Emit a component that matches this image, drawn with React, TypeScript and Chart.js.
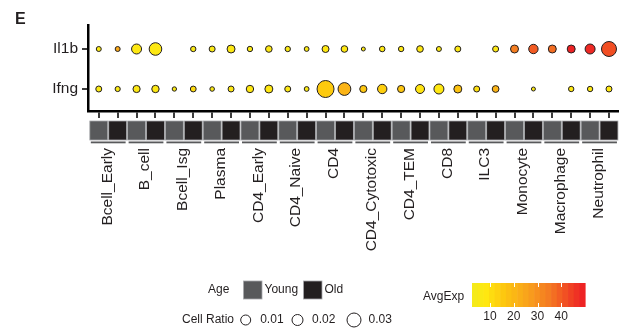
import React, { useEffect, useRef } from "react";
import { Chart, registerables } from "chart.js";

Chart.register(...registerables);

// Cell types, each split into a Young and an Old column
const cellTypes = [
  "Bcell_Early", "B_cell", "Bcell_Isg", "Plasma", "CD4_Early", "CD4_Naive", "CD4",
  "CD4_Cytotoxic", "CD4_TEM", "CD8", "ILC3", "Monocyte", "Macrophage", "Neutrophil",
];
const ageGroups = ["Young", "Old"];
const ageColors = ["#58595b", "#231f20"];
const genes = ["Il1b", "Ifng"];

// Fraction of cells expressing the gene, per column (Young, Old, Young, Old, ...); null = not detected
const il1bRatio = [
  0.0025, 0.0025, 0.0100, 0.0159, null, 0.0029, 0.0036, 0.0064, 0.0029, 0.0044,
  0.0029, 0.0023, 0.0049, 0.0044, 0.0016, 0.0031, 0.0029, 0.0044, 0.0025, 0.0036,
  null, 0.0036, 0.0064, 0.0088, 0.0064, 0.0064, 0.0100, 0.0225,
];
const ifngRatio = [
  0.0036, 0.0027, 0.0052, 0.0055, 0.0019, 0.0034, 0.0021, 0.0036, 0.0055, 0.0064,
  0.0036, 0.0023, 0.0289, 0.0164, 0.0052, 0.0088, 0.0052, 0.0081, 0.0100, 0.0064,
  0.0036, 0.0046, null, 0.0016, null, 0.0029, 0.0029, 0.0036,
];

// Average expression per column
const il1bExp = [
  6, 24, 7, 7, null, 6, 6, 7, 6, 7,
  6, 6, 8, 8, 6, 7, 7, 8, 6, 7,
  null, 7, 34, 40, 37, 49, 48, 42,
];
const ifngExp = [
  6, 6, 7, 7, 6, 11, 6, 7, 8, 8,
  7, 6, 15, 21, 16, 14, 16, 9, 8, 17,
  10, 21, null, 6, null, 7, 7, 8,
];

const ratioLegend = [0.01, 0.02, 0.03];
const ratioLegendRadius = [5, 5.5, 7];
const expTicks = [10, 20, 30, 40];
const expMin = 2.4;
const expMax = 50;

const FONT = '"Liberation Sans", Arial, Helvetica, sans-serif';
const INK = "#231f20";

// Yellow -> orange -> red colour ramp for average expression
const colorStops: [number, number[]][] = [
  [2.4, [242, 234, 29]],
  [8, [255, 232, 17]],
  [15, [253, 202, 14]],
  [25, [249, 165, 27]],
  [35, [244, 122, 34]],
  [50, [237, 28, 36]],
];

function colorFor(v: number): string {
  if (v <= colorStops[0][0]) return `rgb(${colorStops[0][1].join(",")})`;
  for (let i = 1; i < colorStops.length; i++) {
    const [v1, c1] = colorStops[i];
    const [v0, c0] = colorStops[i - 1];
    if (v <= v1) {
      const t = (v - v0) / (v1 - v0);
      const c = c0.map((a, k) => Math.round(a + (c1[k] - a) * t));
      return `rgb(${c.join(",")})`;
    }
  }
  return `rgb(${colorStops[colorStops.length - 1][1].join(",")})`;
}

const radiusOf = (ratio: number) => 50 * Math.sqrt(ratio);

function buildPoints(ratio: (number | null)[], exp: (number | null)[], row: number) {
  const pts: { x: number; y: number; r: number; v: number }[] = [];
  ratio.forEach((rv, i) => {
    const ev = exp[i];
    if (rv == null || ev == null) return;
    pts.push({ x: i, y: row, r: radiusOf(rv), v: ev });
  });
  return pts;
}

// Age strip, rotated cell-type labels and legends below the dot plot
const annotationPlugin = {
  id: "annotations",
  afterDraw(chart: any) {
    const ctx = chart.ctx as CanvasRenderingContext2D;
    const xs = chart.scales.x;
    const step = xs.getPixelForValue(1) - xs.getPixelForValue(0);
    ctx.save();

    // panel letter
    ctx.fillStyle = INK;
    ctx.font = `bold 16px ${FONT}`;
    ctx.textAlign = "left";
    ctx.textBaseline = "alphabetic";
    ctx.fillText("E", 15, 24);

    // Young / Old boxes
    const nCols = cellTypes.length * ageGroups.length;
    for (let i = 0; i < nCols; i++) {
      const cx = xs.getPixelForValue(i);
      const x0 = cx - step / 2 + 0.5;
      ctx.fillStyle = ageColors[i % 2];
      ctx.fillRect(x0, 121, step - 1, 19);
      ctx.strokeStyle = "#a7a9ac";
      ctx.lineWidth = 0.8;
      ctx.strokeRect(x0, 121, step - 1, 19);
    }

    // underline per cell type
    ctx.fillStyle = "#58595b";
    cellTypes.forEach((_, k) => {
      const left = xs.getPixelForValue(2 * k) - step / 2 + 1.5;
      const right = xs.getPixelForValue(2 * k + 1) + step / 2 - 1.5;
      ctx.fillRect(left, 141.5, right - left, 1.8);
    });

    // rotated cell-type labels
    ctx.fillStyle = INK;
    ctx.font = `15.5px ${FONT}`;
    cellTypes.forEach((name, k) => {
      const cx = xs.getPixelForValue(2 * k + 0.5);
      ctx.save();
      ctx.translate(cx + 3.3, 148);
      ctx.rotate(-Math.PI / 2);
      ctx.textAlign = "right";
      ctx.textBaseline = "alphabetic";
      ctx.fillText(name, 0, 0);
      ctx.restore();
    });

    // Age legend
    ctx.font = `12px ${FONT}`;
    ctx.textBaseline = "middle";
    ctx.textAlign = "left";
    ctx.fillStyle = INK;
    ctx.fillText("Age", 208, 290);
    const ageBoxX = [243.5, 303.5];
    ageGroups.forEach((g, i) => {
      ctx.fillStyle = ageColors[i];
      ctx.fillRect(ageBoxX[i], 281, 18.5, 18);
      ctx.strokeStyle = "#a7a9ac";
      ctx.lineWidth = 0.8;
      ctx.strokeRect(ageBoxX[i], 281, 18.5, 18);
      ctx.fillStyle = INK;
      ctx.fillText(g, ageBoxX[i] + 21, 290);
    });

    // Cell ratio legend
    ctx.fillText("Cell Ratio", 182, 320);
    const circleX = [245.7, 297.5, 354];
    ratioLegend.forEach((v, i) => {
      ctx.beginPath();
      ctx.arc(circleX[i], 320, ratioLegendRadius[i], 0, Math.PI * 2);
      ctx.strokeStyle = INK;
      ctx.lineWidth = 1;
      ctx.stroke();
      ctx.fillStyle = INK;
      ctx.fillText(v.toFixed(2), circleX[i] + 14.5, 320);
    });

    // AvgExp colour bar
    ctx.fillText("AvgExp", 423, 297);
    const barX0 = 472, barX1 = 585, barY0 = 283, barY1 = 307;
    const bins = 20;
    const binW = (barX1 - barX0) / bins;
    for (let b = 0; b < bins; b++) {
      const v = expMin + ((b + 0.5) / bins) * (expMax - expMin);
      ctx.fillStyle = colorFor(v);
      ctx.fillRect(barX0 + b * binW, barY0, binW + 0.6, barY1 - barY0);
    }
    const px = (v: number) => barX0 + ((v - expMin) / (expMax - expMin)) * (barX1 - barX0);
    ctx.strokeStyle = "#ffffff";
    ctx.lineWidth = 1;
    expTicks.forEach((t) => {
      const x = Math.round(px(t)) + 0.5;
      ctx.beginPath();
      ctx.moveTo(x, barY0);
      ctx.lineTo(x, barY0 + 4);
      ctx.moveTo(x, barY1 - 4);
      ctx.lineTo(x, barY1);
      ctx.stroke();
    });
    ctx.fillStyle = INK;
    ctx.textAlign = "center";
    expTicks.forEach((t) => ctx.fillText(String(t), px(t), 317));

    ctx.restore();
  },
};

export default function App() {
  const ref = useRef<HTMLCanvasElement>(null);

  useEffect(() => {
    document.body.style.margin = "0";
    const nCols = cellTypes.length * ageGroups.length;
    const rows = [1, 0];
    const ratios = [il1bRatio, ifngRatio];
    const exps = [il1bExp, ifngExp];

    const chart = new Chart(ref.current!, {
      type: "bubble",
      data: {
        datasets: genes.map((g, gi) => ({
          label: g,
          data: buildPoints(ratios[gi], exps[gi], rows[gi]),
          backgroundColor: (c: any) => colorFor(c.raw ? c.raw.v : 0),
          borderColor: INK,
          borderWidth: 1,
          clip: false as any,
        })),
      },
      options: {
        responsive: false,
        animation: false,
        devicePixelRatio: 1,
        events: [],
        layout: { padding: { top: 25, left: 0, right: 0, bottom: 0 } },
        plugins: { legend: { display: false }, tooltip: { enabled: false } },
        scales: {
          x: {
            type: "linear",
            min: -0.57,
            max: 27.45,
            afterBuildTicks: (s: any) => {
              s.ticks = Array.from({ length: nCols }, (_, i) => ({ value: i }));
            },
            afterFit: (s: any) => {
              s.height = 220;
            },
            ticks: { display: false },
            grid: {
              display: true,
              drawOnChartArea: false,
              drawTicks: true,
              tickLength: 7,
              lineWidth: 2,
              color: "#3c3c3c",
            },
            border: { display: true, color: "#000000", width: 2.5 },
          },
          y: {
            type: "linear",
            min: -0.55,
            max: 1.6,
            afterBuildTicks: (s: any) => {
              s.ticks = [{ value: 0 }, { value: 1 }];
            },
            afterFit: (s: any) => {
              s.width = 88;
            },
            ticks: {
              padding: 4,
              color: INK,
              font: { size: 15.5, family: FONT },
              callback: (v: any) => (v === 1 ? genes[0] : v === 0 ? genes[1] : ""),
            },
            grid: {
              display: true,
              drawOnChartArea: false,
              drawTicks: true,
              tickLength: 6,
              lineWidth: 2,
              color: "#3c3c3c",
            },
            border: { display: true, color: "#000000", width: 2.5 },
          },
        },
      },
      plugins: [annotationPlugin],
    } as any);

    return () => chart.destroy();
  }, []);

  return (
    <div style={{ position: "relative", width: 627, height: 331 }}>
      <canvas ref={ref} width={627} height={331} style={{ display: "block", width: 627, height: 331 }} />
    </div>
  );
}
